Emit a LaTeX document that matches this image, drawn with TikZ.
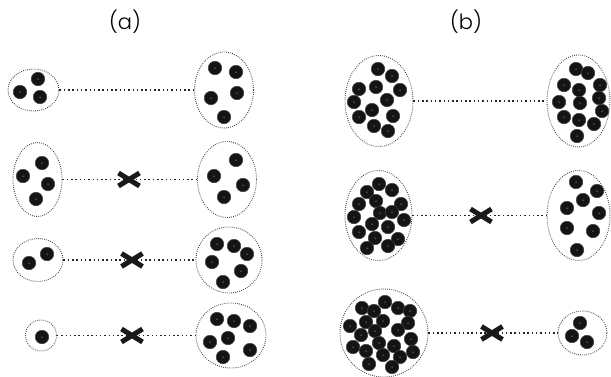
\documentclass[tikz,border=0pt]{standalone}
\usepackage{fontspec}
\setmainfont{Poppins}[UprightFont=* Light]
\usetikzlibrary{shapes.geometric}

\tikzset{
  cell/.style={ellipse, draw=black!75, line width=0.9pt, dash pattern=on 0.8pt off 1.3pt, inner sep=0pt},
  link/.style={draw=black!85, line width=1.5pt, dash pattern=on 1.5pt off 2.8pt},
  mol/.style={circle, fill=black!92, draw=black!75, line width=0.5pt, minimum size=13.5pt, inner sep=0pt},
  cutline/.style={line width=5pt, black!90},
  panel/.style={font=\fontsize{21}{21}\selectfont}
}

\newcommand{\cut}[2]{%
  \coordinate (#1) at (#2);
  \draw[cutline] (#1) ++(-10.5,-6.5) -- ++(21,13);
  \draw[cutline] (#1) ++(-10.5,6.5) -- ++(21,-13);
}

\begin{document}
\begin{tikzpicture}[x=1pt,y=-1pt]
   \useasboundingbox (0,0) rectangle (611,376);
   % labels
   \node[panel] (la) at (125,22) {(a)};
   \node[panel] (lb) at (466,22) {(b)};
   % panel (a)
   \node[cell, minimum width=51pt, minimum height=42pt] (a1l) at (33.5,90) {};
   \node[cell, minimum width=59pt, minimum height=76pt] (a1r) at (224,90) {};
   \node[cell, minimum width=49pt, minimum height=74pt] (a2l) at (37.5,179.5) {};
   \node[cell, minimum width=59pt, minimum height=76pt] (a2r) at (227,179.5) {};
   \node[cell, minimum width=50pt, minimum height=43pt] (a3l) at (38,260) {};
   \node[cell, minimum width=66pt, minimum height=66pt] (a3r) at (229,260) {};
   \node[cell, minimum width=31pt, minimum height=31pt] (a4l) at (41,335.5) {};
   \node[cell, minimum width=70pt, minimum height=65pt] (a4r) at (231,335.5) {};
   % panel (b)
   \node[cell, minimum width=68pt, minimum height=91pt] (b1l) at (379,101) {};
   \node[cell, minimum width=63pt, minimum height=92pt] (b1r) at (578.5,101) {};
   \node[cell, minimum width=67pt, minimum height=90pt] (b2l) at (378.5,215.5) {};
   \node[cell, minimum width=63pt, minimum height=90pt] (b2r) at (578.5,215.5) {};
   \node[cell, minimum width=88pt, minimum height=88pt] (b3l) at (384,333) {};
   \node[cell, minimum width=49pt, minimum height=44pt] (b3r) at (582.5,333) {};
   % links
   \draw[link] (a1l) -- (a1r);
   \draw[link] (a2l) -- (a2r);
   \draw[link] (a3l) -- (a3r);
   \draw[link] (a4l) -- (a4r);
   \draw[link] (b1l) -- (b1r);
   \draw[link] (b2l) -- (b2r);
   \draw[link] (b3l) -- (b3r);
   % crosses
   \cut{xa2}{129,179.5}
   \cut{xa3}{132,260}
   \cut{xa4}{132,335.5}
   \cut{xb2}{481,215.5}
   \cut{xb3}{492,333}
   % molecules
   \foreach \p in {(20,92),(38,79),(40,97),
                   (215,68),(236,72),(211,98),(237,93),(224,117),
                   (23,176),(42,163),(48,184),(36,199),
                   (236,160),(214,176),(243,185),(224,197),
                   (29,263),(47,254),
                   (217,244),(234,246),(247,254),(212,262),(241,271),(223,282),
                   (42,337),
                   (217,319),(234,321),(250,326),(210,342),(228,338),(250,350),(223,357),
                   (378,69),(392,76),(359,89),(376,87),(400,90),(354,102),(387,100),(372,110),(359,117),(393,116),(374,126),(388,131),
                   (576,69),(588,73),(564,85),(579,90),(600,85),(559,102),(580,103),(599,98),(602,111),(564,117),(579,120),(594,124),(577,136),
                   (379,184),(367,192),(392,190),(359,204),(376,201),(401,204),(380,213),(392,212),(354,217),(404,220),(372,224),(388,227),(359,232),(375,238),(398,239),(367,248),(388,246),
                   (576,182),(597,191),(583,200),(567,208),(599,213),(567,228),(593,231),(577,250),
                   (385,302),(362,308),(374,311),(398,308),(410,311),(350,326),(366,322),(383,321),(408,323),(361,335),(375,331),(398,330),(411,339),(379,343),(353,347),(366,351),(394,346),(413,352),(383,355),(400,357),(369,364),(392,367),
                   (580,323),(572,336),(587,342)}
     {\node[mol] at \p {};
      \fill[white] \p circle (0.5pt);}
\end{tikzpicture}
\end{document}
